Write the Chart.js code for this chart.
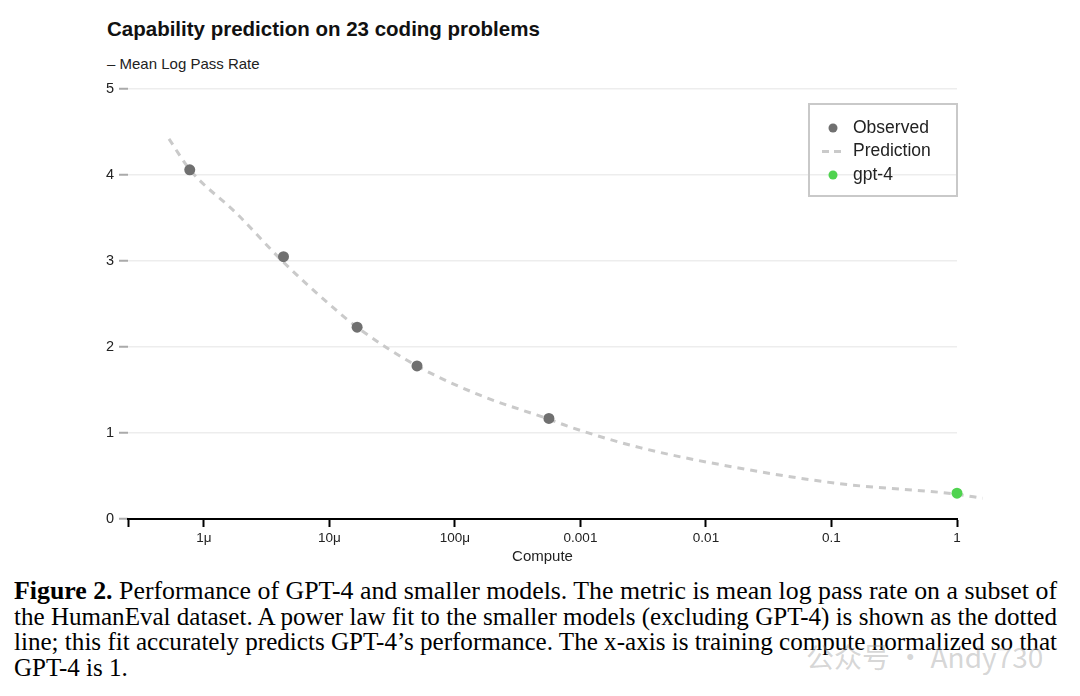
<!DOCTYPE html>
<html>
<head>
<meta charset="utf-8">
<script src="https://cdn.jsdelivr.net/npm/chart.js@4/dist/chart.umd.min.js"></script>
<style>
  body { margin: 0; background: #fff; width: 1080px; height: 696px; overflow: hidden; position: relative; }
  #chart { position: absolute; left: 0; top: 0; }
  .title { position: absolute; left: 107px; top: 17px; font: bold 20.5px "Liberation Sans", Arial, sans-serif; color: #111; }
  .subtitle { position: absolute; left: 107px; top: 55px; font: 15px "Liberation Sans", Arial, sans-serif; color: #222; }
  .caption { position: absolute; left: 14px; top: 578px; width: 1043px; font: 25px/25.5px "Liberation Serif", "Times New Roman", serif; color: #000; }
  .caption span { display: block; white-space: nowrap; transform-origin: 0 50%; }
  .watermark { position: absolute; left: 806px; top: 636px; font: 28px "Noto Sans CJK SC", "Liberation Sans", sans-serif; color: rgba(150,150,150,0.4); }
</style>
</head>
<body>
<div class="title">Capability prediction on 23 coding problems</div>
<div class="subtitle">– Mean Log Pass Rate</div>
<canvas id="chart" width="1080" height="575"></canvas>
<div class="caption">
  <span class="fit"><b>Figure 2.</b> Performance of GPT-4 and smaller models. The metric is mean log pass rate on a subset of</span>
  <span class="fit">the HumanEval dataset. A power law fit to the smaller models (excluding GPT-4) is shown as the dotted</span>
  <span class="fit">line; this fit accurately predicts GPT-4’s performance. The x-axis is training compute normalized so that</span>
  <span class="last">GPT-4 is 1.</span>
</div>
<div class="watermark">公众号 · Andy730</div>
<script>
// values
const observedX = [7.7e-7, 4.3e-6, 1.66e-5, 4.98e-5, 5.6e-4];
const observedY = [4.06, 3.05, 2.23, 1.78, 1.17];

const predictionX = [5.26e-7, 7.73e-7, 1.8e-6, 4.27e-6, 1.01e-5, 1.66e-5, 4.98e-5, 1.58e-4, 5.61e-4, 8.24e-4, 2.98e-3, 0.0187, 0.117, 0.97, 1.6];
const predictionY = [4.42, 4.06, 3.56, 2.99, 2.49, 2.23, 1.78, 1.44, 1.16, 1.07, 0.83, 0.59, 0.41, 0.29, 0.24];

const gpt4X = [1];
const gpt4Y = [0.30];

const xTickValues = [1e-6, 1e-5, 1e-4, 1e-3, 1e-2, 1e-1, 1];
const xTickLabels = ['1μ', '10μ', '100μ', '0.001', '0.01', '0.1', '1'];
const xMin = 2.48e-7;
const yTickValues = [0, 1, 2, 3, 4, 5];

const toPoints = (xs, ys) => xs.map((x, i) => ({ x: x, y: ys[i] }));

// caption lines are stretched to the full text width
const textWidth = 1043;
document.querySelectorAll('.caption .fit').forEach(el => {
  el.style.display = 'inline-block';
  const w = el.getBoundingClientRect().width;
  el.style.display = 'block';
  el.style.transform = 'scaleX(' + (textWidth / w) + ')';
});

// legend drawn inside the plot, top right
const legendBox = {
  id: 'legendBox',
  afterDraw(chart) {
    const { ctx, chartArea } = chart;
    const w = 148, h = 92;
    const x = chartArea.right - w, y = chartArea.top + 15;
    ctx.save();
    ctx.strokeStyle = '#c9c9c9';
    ctx.lineWidth = 2;
    ctx.strokeRect(x, y, w, h);
    ctx.font = '17.5px "Liberation Sans", Arial, sans-serif';
    ctx.textBaseline = 'middle';
    chart.data.datasets.forEach((ds, i) => {
      const cy = y + 24 + i * 23.5;
      if (ds.showLine) {
        ctx.strokeStyle = ds.borderColor;
        ctx.lineWidth = 3;
        ctx.setLineDash([7, 5]);
        ctx.beginPath();
        ctx.moveTo(x + 13, cy);
        ctx.lineTo(x + 35, cy);
        ctx.stroke();
        ctx.setLineDash([]);
      } else {
        ctx.fillStyle = ds.backgroundColor;
        ctx.beginPath();
        ctx.arc(x + 24, cy, 4.5, 0, Math.PI * 2);
        ctx.fill();
      }
      ctx.fillStyle = '#222';
      ctx.fillText(ds.label, x + 44, cy);
    });
    ctx.restore();
  }
};

new Chart(document.getElementById('chart'), {
  type: 'scatter',
  data: {
    datasets: [
      {
        label: 'Observed',
        data: toPoints(observedX, observedY),
        backgroundColor: '#707070',
        borderColor: '#707070',
        pointRadius: 5.5,
        borderWidth: 0,
        clip: false,
        order: 0
      },
      {
        label: 'Prediction',
        data: toPoints(predictionX, predictionY),
        showLine: true,
        borderColor: '#cacaca',
        borderWidth: 3,
        borderDash: [7, 6],
        pointRadius: 0,
        cubicInterpolationMode: 'monotone',
        clip: false,
        order: 1
      },
      {
        label: 'gpt-4',
        data: toPoints(gpt4X, gpt4Y),
        backgroundColor: '#4fd34f',
        borderColor: '#4fd34f',
        pointRadius: 5.5,
        borderWidth: 0,
        clip: false,
        order: 0
      }
    ]
  },
  options: {
    responsive: false,
    animation: false,
    layout: { padding: { top: 89, right: 123, bottom: 0, left: 0 } },
    plugins: {
      legend: { display: false },
      tooltip: { enabled: false }
    },
    scales: {
      x: {
        type: 'logarithmic',
        min: xMin,
        max: 1,
        afterBuildTicks: (scale) => {
          scale.ticks = [xMin].concat(xTickValues).map(v => ({ value: v }));
        },
        afterFit: (scale) => { scale.height = 56; },
        ticks: {
          autoSkip: false,
          maxRotation: 0,
          padding: 3,
          color: '#222',
          font: { family: '"Liberation Sans", Arial, sans-serif', size: 13.5 },
          callback: (value, index) => index === 0 ? '' : xTickLabels[index - 1]
        },
        grid: {
          drawOnChartArea: false,
          tickLength: 8,
          tickWidth: 2,
          tickColor: '#000'
        },
        border: { display: true, color: '#000', width: 2 },
        title: {
          display: true,
          text: 'Compute',
          color: '#222',
          font: { family: '"Liberation Sans", Arial, sans-serif', size: 15 },
          padding: { top: 0, bottom: 9 }
        }
      },
      y: {
        min: 0,
        max: 5,
        afterBuildTicks: (scale) => {
          scale.ticks = yTickValues.map(v => ({ value: v }));
        },
        afterFit: (scale) => { scale.width = 128; },
        ticks: {
          padding: 5,
          color: '#222',
          font: { family: '"Liberation Sans", Arial, sans-serif', size: 14.5 }
        },
        grid: {
          color: (ctx) => ctx.tick && ctx.tick.value === 0 ? 'rgba(0,0,0,0)' : '#ededed',
          lineWidth: 1.5,
          tickLength: 9,
          tickWidth: 2,
          tickColor: '#aaa'
        },
        border: { display: false }
      }
    }
  },
  plugins: [legendBox]
});
</script>
</body>
</html>
